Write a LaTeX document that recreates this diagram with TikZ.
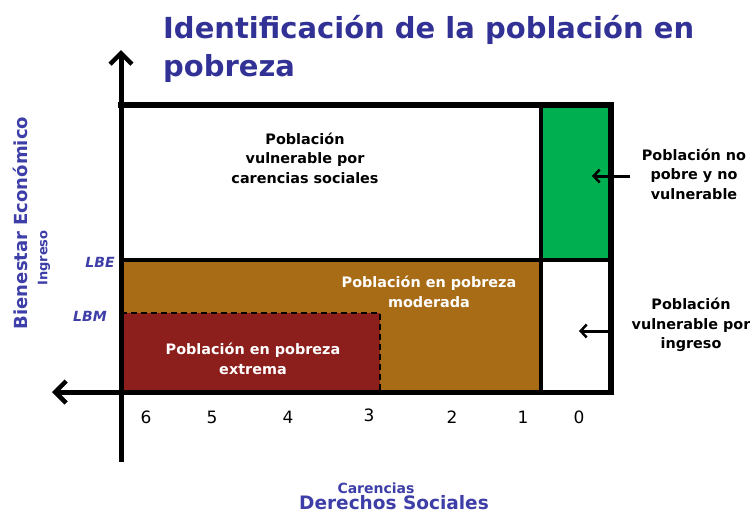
\documentclass[tikz,border=0pt]{standalone}
\usepackage{fontspec}
\setmainfont{DejaVu Sans}
\usetikzlibrary{arrows.meta}
\definecolor{titleblue}{RGB}{50,50,150}
\definecolor{axisblue}{RGB}{62,62,168}
\definecolor{pobbrown}{RGB}{168,108,22}
\definecolor{pobred}{RGB}{140,30,27}
\definecolor{pobgreen}{RGB}{0,176,80}
\begin{document}
\begin{tikzpicture}[x=1pt,y=-1pt,
  lbl/.style={font=\fontsize{14.4}{19.5}\selectfont\bfseries, align=center, inner sep=0pt},
  wlbl/.style={lbl, text=white},
  ttl/.style={font=\fontsize{29}{38}\selectfont\bfseries, text=titleblue, inner sep=0pt, anchor=base west},
  num/.style={font=\fontsize{17}{19}\selectfont, inner sep=0pt},
  lim/.style={font=\fontsize{14}{16}\selectfont\bfseries\itshape, text=axisblue, inner sep=0pt},
  axlbl/.style={font=\bfseries, text=axisblue, inner sep=0pt},
  frame/.style={line width=6pt, line join=miter},
  divider/.style={line width=3.5pt},
  axisarrow/.style={line width=5pt, -{Straight Barb[length=11pt,width=22pt,line width=4.5pt]}},
  smallarrow/.style={line width=3pt, -{Straight Barb[length=6pt,width=13pt,line width=2.5pt]}}
]
\path[use as bounding box, fill=white] (0,0) rectangle (750,515);

% regions
\fill[pobgreen] (541,105) rectangle (611,260);
\fill[pobbrown] (121,260) rectangle (541,392);
\fill[pobred] (121,313) rectangle (380,392);
\draw[line width=2pt, dashed, dash pattern=on 6pt off 4pt] (121,313) -- (380,313) -- (380,392);

% dividers
\draw[divider] (121,260) -- (611,260);
\draw[divider] (541,105) -- (541,392);

% frame
\draw[frame] (118,105) -- (611,105) -- (611,395);

% axes
\coordinate (yb) at (121,462);
\coordinate (yt) at (121,50);
\coordinate (xr) at (614,392);
\coordinate (xl) at (52,392);
\draw[axisarrow] (yb) -- (yt);
\draw[axisarrow] (xr) -- (xl);

% title
\node[ttl] (t1) at (163,38) {Identificación de la población en};
\node[ttl] (t2) at (163,76) {pobreza};

% region labels
\node[lbl] (vcs) at (305,158) {Población\\vulnerable por\\carencias sociales};
\node[wlbl] (mod) at (429,292) {Población en pobreza\\moderada};
\node[wlbl] (ext) at (253,359) {Población en pobreza\\extrema};
\node[lbl] (npv) at (694,174) {Población no\\pobre y no\\vulnerable};
\node[lbl] (vi) at (691,325) {Población\\vulnerable por\\ingreso};

% pointer arrows
\coordinate (a1s) at (630,176);
\coordinate (a1e) at (592,176);
\coordinate (a2s) at (612,331);
\coordinate (a2e) at (579,331);
\draw[smallarrow] (a1s) -- (a1e);
\draw[smallarrow] (a2s) -- (a2e);

% thresholds
\node[lim] (lbe) at (100,262) {LBE};
\node[lim] (lbm) at (90,316) {LBM};

% numbers
\node[num] (n6) at (146,417) {6};
\node[num] (n5) at (212,417) {5};
\node[num] (n4) at (288,417) {4};
\node[num] (n3) at (369,415) {3};
\node[num] (n2) at (452,417) {2};
\node[num] (n1) at (523,417) {1};
\node[num] (n0) at (579,417) {0};

% axis labels
\node[axlbl, font=\fontsize{18}{20}\selectfont\bfseries, rotate=90] (be) at (20,223) {Bienestar Económico};
\node[axlbl, font=\fontsize{13}{15}\selectfont\bfseries, rotate=90] (ing) at (44,258) {Ingreso};
\node[axlbl, font=\fontsize{14}{16}\selectfont\bfseries] (car) at (376,488) {Carencias};
\node[axlbl, font=\fontsize{18.5}{20}\selectfont\bfseries] (ds) at (394,503) {Derechos Sociales};
\end{tikzpicture}
\end{document}
